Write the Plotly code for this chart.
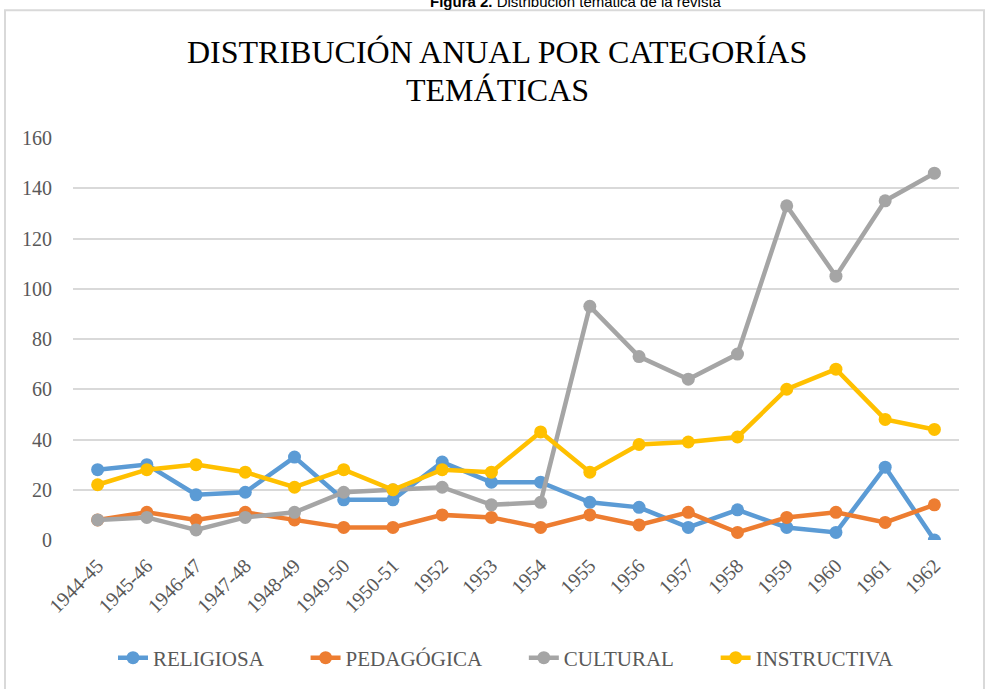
import plotly.graph_objects as go

categories = ["1944-45", "1945-46", "1946-47", "1947-48", "1948-49", "1949-50", "1950-51",
              "1952", "1953", "1954", "1955", "1956", "1957", "1958", "1959", "1960", "1961", "1962"]
religiosa = [28, 30, 18, 19, 33, 16, 16, 31, 23, 23, 15, 13, 5, 12, 5, 3, 29, 0]
pedagogica = [8, 11, 8, 11, 8, 5, 5, 10, 9, 5, 10, 6, 11, 3, 9, 11, 7, 14]
cultural = [8, 9, 4, 9, 11, 19, 20, 21, 14, 15, 93, 73, 64, 74, 133, 105, 135, 146]
instructiva = [22, 28, 30, 27, 21, 28, 20, 28, 27, 43, 27, 38, 39, 41, 60, 68, 48, 44]
y_ticks = [0, 20, 40, 60, 80, 100, 120, 140, 160]

series = [
    ("RELIGIOSA", religiosa, "#5B9BD5"),
    ("PEDAGÓGICA", pedagogica, "#ED7D31"),
    ("CULTURAL", cultural, "#A5A5A5"),
    ("INSTRUCTIVA", instructiva, "#FFC000"),
]

serif = "Liberation Serif, Times New Roman, serif"
pad = "\u00a0" * 7

fig = go.Figure()
for name, vals, color in series:
    fig.add_trace(go.Scatter(
        x=categories, y=vals, name=name + pad, mode="lines+markers",
        line=dict(color=color, width=4.5),
        marker=dict(color=color, size=13),
        hovertemplate=name + ": %{y}<extra></extra>",
    ))

W, H = 986, 689
L, R, T, B = 73, 27, 138, 148
pw, ph = W - L - R, H - T - B

def px2paper_x(px):
    return (px - L) / pw

def px2paper_y(py):
    return (H - B - py) / ph

fig.update_layout(
    width=W, height=H,
    margin=dict(l=L, r=R, t=T, b=B),
    paper_bgcolor="white", plot_bgcolor="white",
    showlegend=True,
    legend=dict(orientation="h", x=px2paper_x(113), xanchor="left", y=px2paper_y(658), yanchor="middle",
                font=dict(family=serif, size=21, color="#595959"), itemwidth=30,
                tracegroupgap=0),
    xaxis=dict(type="category", range=[-0.5, len(categories) - 0.5], tickangle=-45,
               tickfont=dict(family=serif, size=20, color="#595959"),
               showgrid=False, showline=False, zeroline=False,
               ticks="outside", ticklen=5, tickcolor="rgba(0,0,0,0)"),
    yaxis=dict(range=[0, 160], tickvals=y_ticks, ticktext=[str(v) for v in y_ticks],
               tickfont=dict(family=serif, size=20, color="#595959"),
               gridcolor="#D9D9D9", gridwidth=1.5, showline=False, zeroline=False,
               ticks="outside", ticklen=16, tickcolor="rgba(0,0,0,0)"),
    annotations=[
        dict(text="DISTRIBUCIÓN ANUAL POR CATEGORÍAS", xref="paper", yref="paper",
             x=px2paper_x(497), y=px2paper_y(52), xanchor="center", yanchor="middle",
             showarrow=False, font=dict(family=serif, size=32, color="#000000")),
        dict(text="TEMÁTICAS", xref="paper", yref="paper",
             x=px2paper_x(497), y=px2paper_y(90), xanchor="center", yanchor="middle",
             showarrow=False, font=dict(family=serif, size=32, color="#000000")),
        dict(text="<b>Figura 2.</b> Distribución temática de la revista", xref="paper", yref="paper",
             x=px2paper_x(576), y=px2paper_y(1), xanchor="center", yanchor="middle",
             showarrow=False, font=dict(family="Liberation Sans, Arial, sans-serif", size=15, color="#000000")),
    ],
    shapes=[
        dict(type="rect", xref="paper", yref="paper",
             x0=px2paper_x(5), x1=px2paper_x(984), y0=px2paper_y(720), y1=px2paper_y(10),
             line=dict(color="#D9D9D9", width=2), fillcolor="rgba(0,0,0,0)", layer="below"),
    ],
)

fig.write_html("out.html", config={"displayModeBar": False},
               post_script="document.body.style.margin='0';document.body.style.padding='0';")
